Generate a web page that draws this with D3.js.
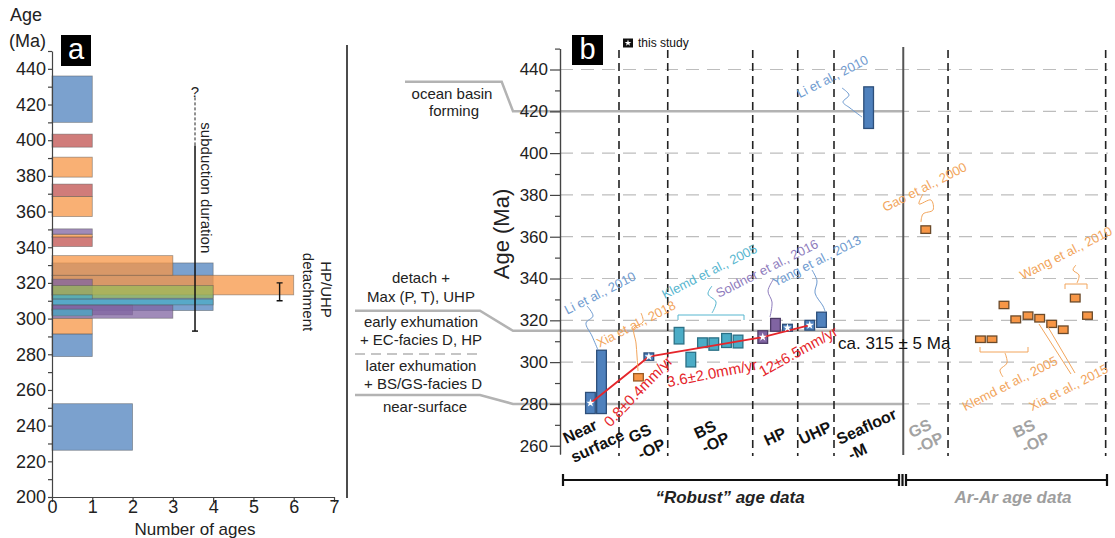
<!DOCTYPE html>
<html>
<head>
<meta charset="utf-8">
<script src="https://cdn.jsdelivr.net/npm/d3@7"></script>
<style>
  body { margin: 0; background: #fff; }
  text { font-family: "Liberation Sans", Arial, sans-serif; }
</style>
</head>
<body>
<div id="chart"></div>
<script>
// ---- panel a: histogram of ages, [lo, hi, count]
const histBlue = [[410, 436, 1], [304.5, 331.2, 4], [278.7, 291.4, 1], [226.2, 252.3, 2]];
const histRed = [[396.1, 403.4, 1], [368.4, 375.4, 1], [340.4, 346.0, 1]];
const histOrange = [[379.3, 390.5, 1], [357.2, 368.4, 1], [345.6, 347.3, 1], [324.1, 335.3, 3], [313.3, 324.3, 6], [291.4, 300.2, 1]];
const histPurple = [[347.3, 350.3, 1], [313.3, 322.1, 1], [302.1, 307.7, 2], [300.2, 307.7, 3]];
const histGreen = [[311.4, 318.5, 4]];
const histCyan = [[310.9, 313.3, 1], [307.7, 310.9, 4], [301.5, 305.3, 1]];

// ---- panel b: "robust" ages (slot position along x, age range, group, this study)
const robustSlot = [2.61, 3.56, 6.73, 7.62, 10.21, 11.22, 12.22, 13.19, 14.28, 15.27, 17.39, 18.48, 19.51, 21.42, 22.43, 26.47];
const robustLo   = [275.4, 275.4, 291.0, 300.9, 308.7, 297.7, 307.0, 305.7, 307.0, 306.8, 309.0, 314.8, 314.8, 315.3, 316.6, 411.8];
const robustHi   = [285.5, 305.7, 294.5, 304.4, 316.6, 304.7, 311.6, 311.6, 313.7, 312.9, 315.0, 320.9, 318.1, 320.0, 323.9, 431.7];
const robustGroup = ["blue", "blue", "orange", "blue", "cyan", "cyan", "cyan", "cyan", "cyan", "cyan", "purple", "purple", "blue", "blue", "blue", "blue"];
const robustStar = [1, 0, 0, 1, 0, 0, 0, 0, 0, 0, 1, 0, 1, 1, 0, 0];

// ---- panel b: Ar-Ar ages
const arSlot = [31.37, 36.06, 37.05, 38.08, 39.09, 40.14, 41.14, 42.17, 43.16, 44.19, 45.24];
const arLo   = [361.6, 309.4, 309.4, 325.6, 318.8, 320.5, 319.2, 316.6, 313.7, 328.8, 320.5];
const arHi   = [365.2, 312.5, 312.5, 329.1, 322.1, 324.0, 322.8, 320.0, 317.3, 332.5, 324.0];

// exhumation rate line through the "this study" ages
const rateSlot = [2.61, 7.62, 17.39, 21.42];
const rateAge  = [280.3, 302.6, 312.0, 317.7];

// category columns
const catEdges = [5.06, 9.24, 16.53, 20.39, 23.5, 33.28, 46.8];
const catSplit = 29.44;

const colors = {
  blue: "#4f81bd", red: "#c0504d", orange: "#f79646",
  purple: "#8064a2", green: "#9bbb59", cyan: "#4bacc6"
};
const strokes = { blue: "#2d4f7a", orange: "#9a5a24", purple: "#4d3b66", cyan: "#2b7085" };

const svg = d3.select("#chart").append("svg")
  .attr("width", 1115).attr("height", 538);

// ================= panel a =================
const xa = d3.scaleLinear().domain([0, 7]).range([52, 334]);
const ya = d3.scaleLinear().domain([200, 450]).range([497, 51]);
const gA = svg.append("g");

function drawHist(data, color) {
  gA.append("g").selectAll("rect").data(data).join("rect")
    .attr("x", xa(0))
    .attr("y", d => ya(d[1]))
    .attr("width", d => xa(d[2]) - xa(0))
    .attr("height", d => ya(d[0]) - ya(d[1]))
    .attr("fill", color).attr("fill-opacity", 0.75)
    .attr("stroke", "#555").attr("stroke-opacity", 0.55).attr("stroke-width", 0.8);
}
drawHist(histBlue, colors.blue);
drawHist(histRed, colors.red);
drawHist(histOrange, colors.orange);
drawHist(histPurple, colors.purple);
drawHist(histGreen, colors.green);
drawHist(histCyan, colors.cyan);

const axA = gA.append("g").attr("transform", "translate(52,0)")
  .call(d3.axisLeft(ya).tickValues(d3.range(200, 451, 10)).tickSize(4).tickSizeOuter(0)
    .tickFormat(d => d % 20 === 0 && d <= 440 ? d : ""));
const axAx = gA.append("g").attr("transform", "translate(0,497)")
  .call(d3.axisBottom(xa).ticks(7).tickSize(5).tickSizeOuter(0));
[axA, axAx].forEach(a => {
  a.selectAll("path,line").attr("stroke", "#444").attr("stroke-width", 1.2);
  a.selectAll("text").attr("font-size", 18).attr("fill", "#222");
});
axA.selectAll("text").attr("x", -6);
axAx.selectAll("text").attr("y", 3);

gA.append("text").attr("x", 10).attr("y", 21).attr("font-size", 18).attr("fill", "#222").text("Age");
gA.append("text").attr("x", 9).attr("y", 47).attr("font-size", 18).attr("fill", "#222").text("(Ma)");
gA.append("rect").attr("x", 61).attr("y", 35).attr("width", 30).attr("height", 31).attr("fill", "#000");
gA.append("text").attr("x", 76).attr("y", 59).attr("text-anchor", "middle")
  .attr("font-size", 29).attr("fill", "#fff").text("a");
gA.append("text").attr("x", 195).attr("y", 535).attr("text-anchor", "middle")
  .attr("font-size", 17).attr("fill", "#222").text("Number of ages");

// subduction duration bar
const sx = xa(3.55);
gA.append("line").attr("x1", sx).attr("x2", sx).attr("y1", ya(424)).attr("y2", ya(397))
  .attr("stroke", "#222").attr("stroke-width", 1).attr("stroke-dasharray", "3,2");
gA.append("line").attr("x1", sx).attr("x2", sx).attr("y1", ya(397)).attr("y2", ya(293))
  .attr("stroke", "#111").attr("stroke-width", 1.5);
gA.append("line").attr("x1", sx - 3).attr("x2", sx + 3).attr("y1", ya(293)).attr("y2", ya(293))
  .attr("stroke", "#111").attr("stroke-width", 1.5);
gA.append("text").attr("x", sx).attr("y", ya(427) + 5).attr("text-anchor", "middle")
  .attr("font-size", 15).attr("fill", "#222").text("?");
gA.append("text").attr("transform", `translate(${sx + 6},${ya(410)}) rotate(90)`)
  .attr("font-size", 15).attr("fill", "#222").text("subduction duration");

// detachment error bar
const ex = xa(5.65);
gA.append("path")
  .attr("d", `M${ex - 3},${ya(320)}H${ex + 3}M${ex},${ya(320)}V${ya(310)}M${ex - 3},${ya(310)}H${ex + 3}`)
  .attr("stroke", "#111").attr("stroke-width", 1.4).attr("fill", "none");
gA.append("text").attr("transform", `translate(321,289.5) rotate(90)`).attr("text-anchor", "middle")
  .attr("font-size", 15).attr("fill", "#222").text("HP/UHP");
gA.append("text").attr("transform", `translate(303,292) rotate(90)`).attr("text-anchor", "middle")
  .attr("font-size", 15).attr("fill", "#222").text("detachment");

// divider
svg.append("line").attr("x1", 347).attr("x2", 347).attr("y1", 45).attr("y2", 498)
  .attr("stroke", "#111").attr("stroke-width", 1.5);

// ================= panel b =================
const xb = d3.scaleLinear().domain([0, 47]).range([560, 1108]);
const yb = d3.scaleLinear().domain([256, 450]).range([454.1, 48.6]);
const gB = svg.append("g");
const boxW = 0.83;

// dashed grid
gB.append("g").selectAll("line").data(d3.range(280, 441, 20)).join("line")
  .attr("x1", xb(0)).attr("x2", xb(47)).attr("y1", d => yb(d)).attr("y2", d => yb(d))
  .attr("stroke", "#bdbdbd").attr("stroke-width", 1.2).attr("stroke-dasharray", "13,8");

// stage lines with labels on the left
const gray = "#b3b3b3";
const stageLine = d3.line();
gB.append("path").attr("d", stageLine([[405, 81.7], [501.7, 81.7], [513, yb(420)], [xb(catSplit), yb(420)]]))
  .attr("fill", "none").attr("stroke", gray).attr("stroke-width", 2.5);
gB.append("path").attr("d", stageLine([[355, 310.7], [480, 310.7], [513, yb(315)], [xb(catSplit), yb(315)]]))
  .attr("fill", "none").attr("stroke", gray).attr("stroke-width", 2.5);
gB.append("path").attr("d", stageLine([[355, 395], [480, 395], [513, yb(280)], [xb(catSplit), yb(280)]]))
  .attr("fill", "none").attr("stroke", gray).attr("stroke-width", 2.5);
gB.append("line").attr("x1", 355).attr("x2", 480).attr("y1", 354).attr("y2", 354)
  .attr("stroke", gray).attr("stroke-width", 1.5).attr("stroke-dasharray", "10,6");

const stageText = [
  ["ocean basin", 452, 99], ["forming", 454, 116],
  ["detach +", 421, 283], ["Max (P, T), UHP", 421, 301.5],
  ["early exhumation", 421, 327], ["+ EC-facies D, HP", 421, 345],
  ["later exhumation", 421, 370.5], ["+ BS/GS-facies D", 423, 388.5],
  ["near-surface", 425, 411.5]
];
gB.append("g").selectAll("text").data(stageText).join("text")
  .attr("x", d => d[1]).attr("y", d => d[2]).attr("text-anchor", "middle")
  .attr("font-size", 15).attr("fill", "#222").text(d => d[0]);

// category separators
gB.append("g").selectAll("line").data(catEdges).join("line")
  .attr("x1", d => xb(d)).attr("x2", d => xb(d)).attr("y1", 50).attr("y2", 456)
  .attr("stroke", "#222").attr("stroke-width", 1.6).attr("stroke-dasharray", "8,5");
gB.append("line").attr("x1", xb(catSplit)).attr("x2", xb(catSplit)).attr("y1", 47).attr("y2", 455)
  .attr("stroke", "#555").attr("stroke-width", 2);

// y axis
const axB = gB.append("g").attr("transform", "translate(560,0)")
  .call(d3.axisLeft(yb).tickValues(d3.range(260, 441, 20)).tickSize(10).tickSizeOuter(0));
const axBm = gB.append("g").attr("transform", "translate(560,0)")
  .call(d3.axisLeft(yb).tickValues(d3.range(270, 451, 20)).tickSize(5).tickSizeOuter(0).tickFormat(""));
[axB, axBm].forEach(a => a.selectAll("path,line").attr("stroke", "#444").attr("stroke-width", 1.2));
axB.selectAll("text").attr("font-size", 17).attr("fill", "#222").attr("x", -12);
gB.append("text").attr("transform", "translate(509,234) rotate(-90)").attr("text-anchor", "middle")
  .attr("font-size", 22).attr("fill", "#222").text("Age (Ma)");

// robust boxes
const robust = robustSlot.map((s, i) => ({ s, lo: robustLo[i], hi: robustHi[i], g: robustGroup[i], star: robustStar[i] }));
gB.append("g").selectAll("rect").data(robust).join("rect")
  .attr("x", d => xb(d.s - boxW / 2)).attr("width", xb(boxW) - xb(0))
  .attr("y", d => yb(d.hi)).attr("height", d => yb(d.lo) - yb(d.hi))
  .attr("fill", d => colors[d.g]).attr("stroke", d => strokes[d.g]).attr("stroke-width", 1.3);

// Ar-Ar boxes
const arar = arSlot.map((s, i) => ({ s, lo: arLo[i], hi: arHi[i] }));
gB.append("g").selectAll("rect").data(arar).join("rect")
  .attr("x", d => xb(d.s - boxW / 2)).attr("width", xb(boxW) - xb(0))
  .attr("y", d => yb(d.hi)).attr("height", d => yb(d.lo) - yb(d.hi))
  .attr("fill", colors.orange).attr("stroke", "#6b4a2a").attr("stroke-width", 1.3);

// rate line
gB.append("path")
  .attr("d", d3.line().x(d => xb(d[0])).y(d => yb(d[1]))(rateSlot.map((s, i) => [s, rateAge[i]])))
  .attr("fill", "none").attr("stroke", "#e5262b").attr("stroke-width", 1.8);

// stars for this study
const star = d3.symbol(d3.symbolStar).size(22);
gB.append("g").selectAll("path").data(robust.filter(d => d.star)).join("path")
  .attr("d", star)
  .attr("transform", d => `translate(${xb(d.s)},${yb((d.lo + d.hi) / 2)})`)
  .attr("fill", "#fff");

// rate labels
const rateText = [["0.8±0.4mm/yr", 638, 391, -46], ["3.6±2.0mm/yr", 712, 373, -11], ["12±6.5mm/yr", 798, 351, -29]];
gB.append("g").selectAll("text").data(rateText).join("text")
  .attr("transform", d => `translate(${d[1]},${d[2]}) rotate(${d[3]})`)
  .attr("text-anchor", "middle").attr("dominant-baseline", "central")
  .attr("font-size", 15).attr("fill", "#e5262b").text(d => d[0]);

gB.append("text").attr("x", 838).attr("y", 349).attr("font-size", 17).attr("fill", "#111").text("ca. 315 ± 5 Ma");

// reference labels
const refBlue = "#6f9bd0", refOrange = "#f2a55c", refCyan = "#57b6cf", refPurple = "#8f7dbd";
const refText = [
  ["Li et al., 2010", 600, 293, refBlue], ["Xia et al., 2018", 636, 324, refOrange],
  ["Klemd et al., 2005", 709.5, 271.5, refCyan], ["Soldner et al., 2016", 767, 268.5, refPurple],
  ["Yang et al., 2013", 816.5, 261, refBlue], ["Li et al., 2010", 832.5, 76.5, refBlue],
  ["Gao et al., 2000", 924.5, 187, refOrange], ["Wang et al., 2010", 1066, 253, refOrange],
  ["Klemd et al., 2005", 1010, 383.5, refOrange], ["Xia et al., 2015", 1068.5, 387.5, refOrange]
];
gB.append("g").selectAll("text").data(refText).join("text")
  .attr("transform", d => `translate(${d[1]},${d[2]}) rotate(-27)`)
  .attr("text-anchor", "middle").attr("dominant-baseline", "central")
  .attr("font-size", 13).attr("fill", d => d[3]).text(d => d[0]);

// leaders
const curvy = d3.line().curve(d3.curveCatmullRom);
const leaders = [
  [[[587, 306], [593, 316], [586, 323], [592, 336], [598, 350]], refBlue],
  [[[641, 313], [643, 322], [634, 328], [636, 343], [637, 356], [638, 371]], refOrange],
  [[[712, 313], [716, 302], [708, 294], [712, 286]], refCyan],
  [[[773, 280], [768, 291], [772, 302], [770, 317]], refPurple],
  [[[812, 270], [817, 281], [815, 293], [823, 306], [825, 311]], refBlue],
  [[[842, 88], [849, 95], [843, 102], [850, 108], [862, 117]], refBlue],
  [[[923, 194], [919, 204], [931, 200], [933, 210], [923, 214], [921, 222]], refOrange],
  [[[1077, 283], [1079, 275], [1073, 270], [1076, 265]], refOrange],
  [[[1005, 353], [1007, 363], [1000, 370], [1003, 377]], refOrange]
];
gB.append("g").selectAll("path").data(leaders).join("path")
  .attr("d", d => curvy(d[0])).attr("fill", "none").attr("stroke", d => d[1]).attr("stroke-width", 1);
gB.append("path").attr("d", "M1039,324L1071,374M1048,327L1075,373")
  .attr("stroke", refOrange).attr("stroke-width", 1);
// braces
const braces = [[678, 744, 315, 1, refCyan], [1065, 1087, 284, 1, refOrange], [980, 1028, 352, -1, refOrange]];
gB.append("g").selectAll("path").data(braces).join("path")
  .attr("d", d => `M${d[0]},${d[2] + 5 * d[3]}V${d[2]}H${d[1]}V${d[2] + 5 * d[3]}`)
  .attr("fill", "none").attr("stroke", d => d[4]).attr("stroke-width", 1);

// category labels
const catText = [
  ["Near", 580, 431.5, "#111"], ["surface", 597.5, 446, "#111"],
  ["GS", 640, 433.5, "#111"], ["-OP", 651.5, 449, "#111"],
  ["BS", 705, 429.5, "#111"], ["-OP", 715.5, 442.5, "#111"],
  ["HP", 775, 436.5, "#111"], ["UHP", 815, 433, "#111"],
  ["Seafloor", 866.5, 426.5, "#111"], ["-M", 857.5, 451.5, "#111"],
  ["GS", 920, 428.5, "#a3a3a3"], ["-OP", 929.5, 442.5, "#a3a3a3"],
  ["BS", 1024, 428.5, "#a3a3a3"], ["-OP", 1035.5, 442.5, "#a3a3a3"]
];
gB.append("g").selectAll("text").data(catText).join("text")
  .attr("transform", d => `translate(${d[1]},${d[2]}) rotate(-25)`)
  .attr("text-anchor", "middle").attr("dominant-baseline", "central")
  .attr("font-size", 16).attr("font-weight", "bold").attr("fill", d => d[3]).text(d => d[0]);

// bottom brackets
gB.append("path")
  .attr("d", "M563,480H899M563,474V486M899,474V486M902.5,474V486M906,474V486M906,480H1107M1107,474V486")
  .attr("stroke", "#111").attr("stroke-width", 2.2).attr("fill", "none");
gB.append("text").attr("x", 730).attr("y", 503).attr("text-anchor", "middle")
  .attr("font-size", 17).attr("font-weight", "bold").attr("font-style", "italic").attr("fill", "#222")
  .text("“Robust” age data");
gB.append("text").attr("x", 1013).attr("y", 503).attr("text-anchor", "middle")
  .attr("font-size", 17).attr("font-weight", "bold").attr("font-style", "italic").attr("fill", "#9e9e9e")
  .text("Ar-Ar age data");

// b label and legend
gB.append("rect").attr("x", 572).attr("y", 35).attr("width", 31).attr("height", 30).attr("fill", "#000");
gB.append("text").attr("x", 587.5).attr("y", 59).attr("text-anchor", "middle")
  .attr("font-size", 29).attr("fill", "#fff").text("b");
gB.append("rect").attr("x", 623).attr("y", 38.5).attr("width", 10).attr("height", 9).attr("fill", "#111");
gB.append("path").attr("d", d3.symbol(d3.symbolStar).size(14)).attr("transform", "translate(628,43)").attr("fill", "#fff");
gB.append("text").attr("x", 638).attr("y", 47).attr("font-size", 12).attr("fill", "#111").text("this study");
</script>
</body>
</html>
